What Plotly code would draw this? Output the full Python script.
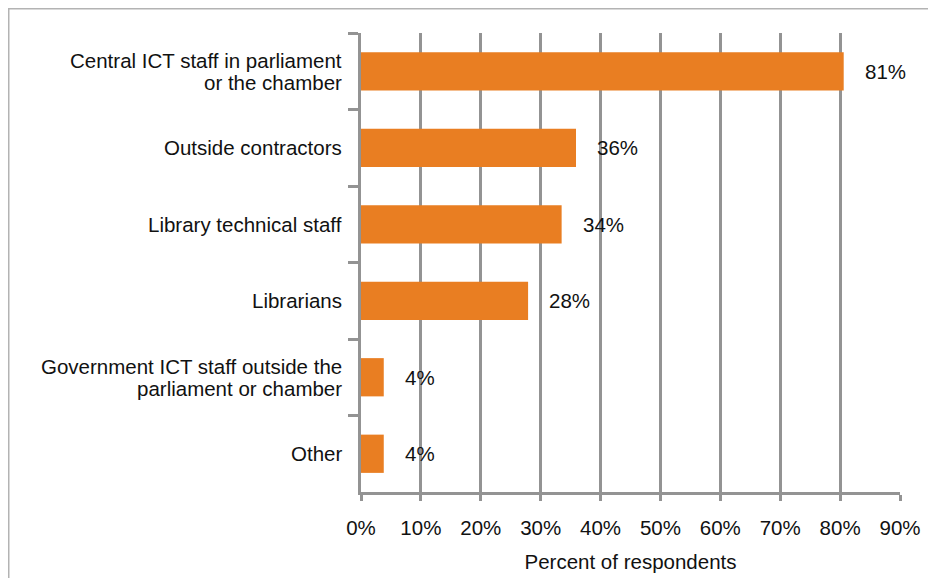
import plotly.graph_objects as go

categories = [
    "Central ICT staff in parliament<br>or the chamber",
    "Outside contractors",
    "Library technical staff",
    "Librarians",
    "Government ICT staff outside the<br>parliament or chamber",
    "Other",
]
values = [80.6, 35.9, 33.5, 27.9, 3.8, 3.8]
value_labels = ["81%", "36%", "34%", "28%", "4%", "4%"]
x_ticks = [0, 10, 20, 30, 40, 50, 60, 70, 80, 90]
x_tick_labels = [f"{t}%" for t in x_ticks]

# page has an 8px body margin, so the figure is 8px smaller
W, H = 928, 570
L, R, T, B = 353, 36, 25, 86
pw, ph = W - L - R, H - T - B

FONT = "Liberation Sans, Arial, sans-serif"
FS = 20.5
TXT = "#111111"
GRID = "#939393"
LINE_GAP = 22  # px between lines of a wrapped category label

fig = go.Figure()
fig.add_trace(go.Bar(
    x=values, y=categories, orientation="h",
    marker=dict(color="#E97E22", line=dict(width=0)),
    width=0.5, hoverinfo="skip",
))

for v, c, lab in zip(values, categories, value_labels):
    fig.add_annotation(x=v, y=c, text=lab, showarrow=False,
                       xanchor="left", xshift=19,
                       font=dict(family=FONT, size=FS, color=TXT))

# category labels with tighter line spacing than plotly's default
for c in categories:
    lines = c.split("<br>")
    n = len(lines)
    for i, ln in enumerate(lines):
        off = ((n - 1) / 2 - i) * LINE_GAP
        fig.add_annotation(x=0, xref="paper", y=c, yref="y", text=ln,
                           showarrow=False, xanchor="right", yanchor="middle",
                           xshift=-17, yshift=off,
                           font=dict(family=FONT, size=FS, color=TXT))

def px_x(p):
    return (p - L) / pw

def px_y(p):
    return (H - B - p) / ph

fig.add_shape(type="rect", xref="paper", yref="paper",
              x0=px_x(0.75), x1=px_x(1000), y0=px_y(0.75), y1=px_y(700),
              line=dict(color="#b3b3b3", width=1.5), layer="below")

fig.update_layout(
    width=W, height=H,
    margin=dict(l=L, r=R, t=T, b=B, autoexpand=False),
    paper_bgcolor="white", plot_bgcolor="white",
    showlegend=False,
    font=dict(family=FONT, size=FS, color=TXT),
    xaxis=dict(
        range=[0, 90], tickvals=x_ticks, ticktext=x_tick_labels,
        showgrid=True, gridcolor=GRID, gridwidth=2.5,
        showline=True, linecolor=GRID, linewidth=2.5,
        ticks="outside", ticklen=6, tickwidth=2.5, tickcolor=GRID,
        zeroline=False, ticklabelstandoff=10, automargin=False,
        title=dict(text="Percent of respondents", standoff=17,
                   font=dict(family=FONT, size=FS, color=TXT)),
        tickfont=dict(family=FONT, size=FS, color=TXT),
        fixedrange=True,
    ),
    yaxis=dict(
        categoryorder="array", categoryarray=categories,
        autorange="reversed",
        showgrid=False, zeroline=False,
        showline=True, linecolor=GRID, linewidth=2.5,
        ticks="outside", ticklen=10, tickwidth=2.5, tickcolor=GRID,
        tickson="boundaries", showticklabels=False, automargin=False,
        fixedrange=True,
    ),
)

fig.write_html("out.html")
